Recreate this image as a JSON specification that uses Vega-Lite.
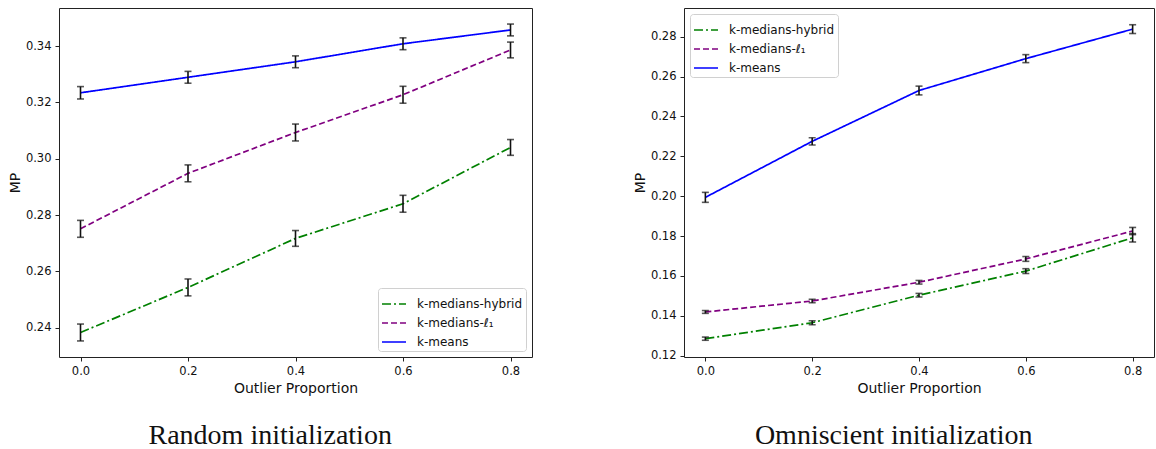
{
  "$schema": "https://vega.github.io/schema/vega-lite/v6.json",
  "padding": {"left": 7, "top": 7, "right": 0, "bottom": 0},
  "spacing": 99,
  "config": {
    "view": {"stroke": "#222", "strokeWidth": 1},
    "font": "DejaVu Sans",
    "axis": {
      "grid": false, "domain": false, "tickColor": "#222", "tickSize": 4, "tickWidth": 1,
      "labelFont": "DejaVu Sans", "labelFontSize": 11.5, "labelColor": "#111", "labelPadding": 4,
      "titleFont": "DejaVu Sans", "titleFontSize": 14, "titleFontWeight": "normal", "titleColor": "#111"
    },
    "legend": {
      "title": null, "symbolType": "stroke", "symbolSize": 576, "symbolStrokeWidth": 1.6,
      "labelFont": "DejaVu Sans", "labelFontSize": 12, "labelColor": "#111",
      "strokeColor": "#d0d0d0", "fillColor": "white", "padding": 3, "cornerRadius": 3,
      "rowPadding": -6, "offset": 6, "labelOffset": 10
    }
  },
  "datasets": {
    "mp": [
      {"panel": "random", "method": "k-medians-hybrid", "x": 0.0, "mp": 0.2383, "lo": 0.2353, "hi": 0.2413},
      {"panel": "random", "method": "k-medians-hybrid", "x": 0.2, "mp": 0.2543, "lo": 0.2513, "hi": 0.2573},
      {"panel": "random", "method": "k-medians-hybrid", "x": 0.4, "mp": 0.2717, "lo": 0.2689, "hi": 0.2745},
      {"panel": "random", "method": "k-medians-hybrid", "x": 0.6, "mp": 0.2840, "lo": 0.2810, "hi": 0.2870},
      {"panel": "random", "method": "k-medians-hybrid", "x": 0.8, "mp": 0.3040, "lo": 0.3012, "hi": 0.3068},
      {"panel": "random", "method": "k-medians-ℓ₁", "x": 0.0, "mp": 0.2751, "lo": 0.2721, "hi": 0.2781},
      {"panel": "random", "method": "k-medians-ℓ₁", "x": 0.2, "mp": 0.2948, "lo": 0.2918, "hi": 0.2978},
      {"panel": "random", "method": "k-medians-ℓ₁", "x": 0.4, "mp": 0.3093, "lo": 0.3063, "hi": 0.3123},
      {"panel": "random", "method": "k-medians-ℓ₁", "x": 0.6, "mp": 0.3227, "lo": 0.3197, "hi": 0.3257},
      {"panel": "random", "method": "k-medians-ℓ₁", "x": 0.8, "mp": 0.3386, "lo": 0.3358, "hi": 0.3414},
      {"panel": "random", "method": "k-means", "x": 0.0, "mp": 0.3234, "lo": 0.3212, "hi": 0.3256},
      {"panel": "random", "method": "k-means", "x": 0.2, "mp": 0.3289, "lo": 0.3268, "hi": 0.3310},
      {"panel": "random", "method": "k-means", "x": 0.4, "mp": 0.3344, "lo": 0.3323, "hi": 0.3365},
      {"panel": "random", "method": "k-means", "x": 0.6, "mp": 0.3408, "lo": 0.3387, "hi": 0.3429},
      {"panel": "random", "method": "k-means", "x": 0.8, "mp": 0.3457, "lo": 0.3436, "hi": 0.3478},
      {"panel": "omni", "method": "k-medians-hybrid", "x": 0.0, "mp": 0.1285, "lo": 0.1277, "hi": 0.1293},
      {"panel": "omni", "method": "k-medians-hybrid", "x": 0.2, "mp": 0.1365, "lo": 0.1355, "hi": 0.1375},
      {"panel": "omni", "method": "k-medians-hybrid", "x": 0.4, "mp": 0.1503, "lo": 0.1494, "hi": 0.1512},
      {"panel": "omni", "method": "k-medians-hybrid", "x": 0.6, "mp": 0.1624, "lo": 0.1612, "hi": 0.1636},
      {"panel": "omni", "method": "k-medians-hybrid", "x": 0.8, "mp": 0.1791, "lo": 0.1770, "hi": 0.1812},
      {"panel": "omni", "method": "k-medians-ℓ₁", "x": 0.0, "mp": 0.1419, "lo": 0.1412, "hi": 0.1426},
      {"panel": "omni", "method": "k-medians-ℓ₁", "x": 0.2, "mp": 0.1474, "lo": 0.1465, "hi": 0.1483},
      {"panel": "omni", "method": "k-medians-ℓ₁", "x": 0.4, "mp": 0.1568, "lo": 0.1559, "hi": 0.1577},
      {"panel": "omni", "method": "k-medians-ℓ₁", "x": 0.6, "mp": 0.1685, "lo": 0.1673, "hi": 0.1697},
      {"panel": "omni", "method": "k-medians-ℓ₁", "x": 0.8, "mp": 0.1825, "lo": 0.1807, "hi": 0.1843},
      {"panel": "omni", "method": "k-means", "x": 0.0, "mp": 0.1994, "lo": 0.1969, "hi": 0.2019},
      {"panel": "omni", "method": "k-means", "x": 0.2, "mp": 0.2275, "lo": 0.2257, "hi": 0.2293},
      {"panel": "omni", "method": "k-means", "x": 0.4, "mp": 0.2530, "lo": 0.2508, "hi": 0.2552},
      {"panel": "omni", "method": "k-means", "x": 0.6, "mp": 0.2690, "lo": 0.2670, "hi": 0.2710},
      {"panel": "omni", "method": "k-means", "x": 0.8, "mp": 0.2838, "lo": 0.2816, "hi": 0.2860}
    ]
  },
  "hconcat": [
    {
      "width": 473, "height": 349,
      "data": {"name": "mp"},
      "transform": [{"filter": "datum.panel === 'random'"}],
      "title": {"text": "Random initialization", "orient": "bottom", "frame": "bounds", "anchor": "middle", "font": "Liberation Serif", "fontSize": 28, "fontWeight": "normal", "color": "#111", "offset": 26},
      "layer": [
        {
          "mark": {"type": "line", "strokeWidth": 1.7},
          "encoding": {
            "x": {"field": "x", "type": "quantitative", "scale": {"domain": [-0.04, 0.84], "nice": false, "zero": false},
                  "axis": {"values": [0, 0.2, 0.4, 0.6, 0.8], "format": ".1f", "title": "Outlier Proportion", "titlePadding": 5}},
            "y": {"field": "mp", "type": "quantitative", "scale": {"domain": [0.2296, 0.3535], "nice": false, "zero": false},
                  "axis": {"values": [0.24, 0.26, 0.28, 0.30, 0.32, 0.34], "format": ".2f", "title": "MP", "titlePadding": 3}},
            "color": {"field": "method", "type": "nominal",
                      "scale": {"domain": ["k-medians-hybrid", "k-medians-ℓ₁", "k-means"], "range": ["#008000", "#800080", "#0000ff"]},
                      "legend": {"orient": "bottom-right"}},
            "strokeDash": {"field": "method", "type": "nominal",
                           "scale": {"domain": ["k-medians-hybrid", "k-medians-ℓ₁", "k-means"], "range": [[9, 3, 2, 3], [6, 3], [1, 0]]},
                           "legend": {"orient": "bottom-right"}}
          }
        },
        {
          "mark": {"type": "rule", "color": "#111", "strokeWidth": 1.6},
          "encoding": {"x": {"field": "x", "type": "quantitative"}, "y": {"field": "lo", "type": "quantitative"}, "y2": {"field": "hi"}}
        },
        {
          "mark": {"type": "tick", "color": "#111", "orient": "horizontal", "size": 7, "thickness": 1.6},
          "encoding": {"x": {"field": "x", "type": "quantitative"}, "y": {"field": "lo", "type": "quantitative"}}
        },
        {
          "mark": {"type": "tick", "color": "#111", "orient": "horizontal", "size": 7, "thickness": 1.6},
          "encoding": {"x": {"field": "x", "type": "quantitative"}, "y": {"field": "hi", "type": "quantitative"}}
        }
      ]
    },
    {
      "width": 470, "height": 349,
      "data": {"name": "mp"},
      "transform": [{"filter": "datum.panel === 'omni'"}],
      "title": {"text": "Omniscient initialization", "orient": "bottom", "frame": "bounds", "anchor": "middle", "font": "Liberation Serif", "fontSize": 28, "fontWeight": "normal", "color": "#111", "offset": 26},
      "layer": [
        {
          "mark": {"type": "line", "strokeWidth": 1.7},
          "encoding": {
            "x": {"field": "x", "type": "quantitative", "scale": {"domain": [-0.04, 0.84], "nice": false, "zero": false},
                  "axis": {"values": [0, 0.2, 0.4, 0.6, 0.8], "format": ".1f", "title": "Outlier Proportion", "titlePadding": 5}},
            "y": {"field": "mp", "type": "quantitative", "scale": {"domain": [0.1193, 0.2944], "nice": false, "zero": false},
                  "axis": {"values": [0.12, 0.14, 0.16, 0.18, 0.20, 0.22, 0.24, 0.26, 0.28], "format": ".2f", "title": "MP", "titlePadding": 3}},
            "color": {"field": "method", "type": "nominal",
                      "scale": {"domain": ["k-medians-hybrid", "k-medians-ℓ₁", "k-means"], "range": ["#008000", "#800080", "#0000ff"]},
                      "legend": {"orient": "top-left"}},
            "strokeDash": {"field": "method", "type": "nominal",
                           "scale": {"domain": ["k-medians-hybrid", "k-medians-ℓ₁", "k-means"], "range": [[9, 3, 2, 3], [6, 3], [1, 0]]},
                           "legend": {"orient": "top-left"}}
          }
        },
        {
          "mark": {"type": "rule", "color": "#111", "strokeWidth": 1.6},
          "encoding": {"x": {"field": "x", "type": "quantitative"}, "y": {"field": "lo", "type": "quantitative"}, "y2": {"field": "hi"}}
        },
        {
          "mark": {"type": "tick", "color": "#111", "orient": "horizontal", "size": 7, "thickness": 1.6},
          "encoding": {"x": {"field": "x", "type": "quantitative"}, "y": {"field": "lo", "type": "quantitative"}}
        },
        {
          "mark": {"type": "tick", "color": "#111", "orient": "horizontal", "size": 7, "thickness": 1.6},
          "encoding": {"x": {"field": "x", "type": "quantitative"}, "y": {"field": "hi", "type": "quantitative"}}
        }
      ]
    }
  ],
  "resolve": {"scale": {"color": "independent", "strokeDash": "independent", "y": "independent"}, "legend": {"color": "independent", "strokeDash": "independent"}}
}
